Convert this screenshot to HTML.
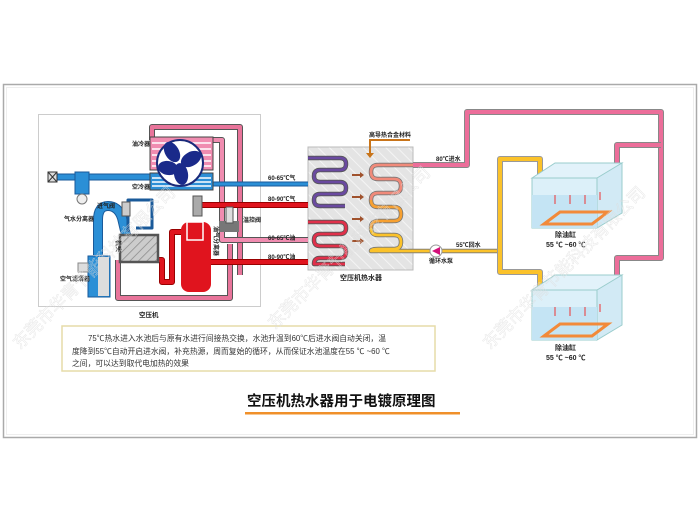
<!DOCTYPE html>
<html><head><meta charset="utf-8"><style>
html,body{margin:0;padding:0;background:#fff;}
svg{display:block;font-family:"Liberation Sans","Noto Sans CJK SC",sans-serif;}
</style></head><body>
<svg width="700" height="525" viewBox="0 0 700 525" xmlns="http://www.w3.org/2000/svg">
<defs>
<pattern id="hatch" width="8" height="8" patternUnits="userSpaceOnUse" patternTransform="rotate(-45)">
<rect width="8" height="8" fill="#e4e4e4"/><line x1="0" y1="0" x2="0" y2="8" stroke="#f4f4f4" stroke-width="2"/></pattern>
<pattern id="hatch2" width="6" height="6" patternUnits="userSpaceOnUse" patternTransform="rotate(45)">
<rect width="6" height="6" fill="#ccc"/><line x1="0" y1="0" x2="0" y2="6" stroke="#888" stroke-width="1.5"/></pattern>
</defs>
<rect x="0" y="0" width="700" height="525" fill="#fff"/>
<rect x="3.5" y="84.5" width="693" height="353" fill="#fff" stroke="#aaa" stroke-width="1.5"/>
<rect x="6.5" y="87.5" width="687" height="347" fill="none" stroke="#ddd" stroke-dasharray="1 1"/>
<rect x="38.5" y="114.5" width="222" height="192" fill="#fff" stroke="#ccc"/>
<rect x="308" y="147" width="105" height="123" fill="url(#hatch)" stroke="#bbb"/>
<g fill="none" stroke-linejoin="round">
<path d="M240 275 V127 H152 V140" stroke="#555" stroke-width="6"/>
<path d="M240 275 V127 H152 V140" stroke="#e8749a" stroke-width="4"/>
<path d="M213 140 H222 V240 H308" stroke="#555" stroke-width="6"/>
<path d="M213 140 H222 V240 H308" stroke="#f08cb0" stroke-width="4"/>
<path d="M118 260 V298 H230 V244" stroke="#555" stroke-width="6"/>
<path d="M118 260 V298 H230 V244" stroke="#e8749a" stroke-width="4"/>
<path d="M55 177 H150" stroke="#1a5a9a" stroke-width="7"/>
<path d="M55 177 H150" stroke="#2b8fd6" stroke-width="5"/>
<path d="M213 184 H308" stroke="#1a5a9a" stroke-width="5"/>
<path d="M213 184 H308" stroke="#2b8fd6" stroke-width="3"/>
<path d="M98 255 V220 Q98 206 108 206 Q118 206 122 218 L126 235" stroke="#1a5a9a" stroke-width="10"/>
<path d="M98 255 V220 Q98 206 108 206 Q118 206 122 218 L126 235" stroke="#2b8fd6" stroke-width="8"/>
<path d="M128 232 V200 H152 V228 H136" stroke="#1a5a9a" stroke-width="3"/>
<path d="M198 215 V205 H308" stroke="#900" stroke-width="6"/>
<path d="M198 215 V205 H308" stroke="#e0141e" stroke-width="4"/>
<path d="M210 262 H308" stroke="#900" stroke-width="6"/>
<path d="M210 262 H308" stroke="#e0141e" stroke-width="4"/>
<path d="M155 260 H162 V282 H172 V232 H182" stroke="#900" stroke-width="6"/>
<path d="M155 260 H162 V282 H172 V232 H182" stroke="#e0141e" stroke-width="4"/>
<path d="M308 158 H340 Q346 158 346 164 Q346 170 340 170 H320 Q314 170 314 176 Q314 182 320 182 H340 Q346 182 346 188 Q346 194 340 194 H320 Q314 194 314 200 Q314 206 320 206 H345" stroke="#555" stroke-width="4.5"/>
<path d="M308 158 H340 Q346 158 346 164 Q346 170 340 170 H320 Q314 170 314 176 Q314 182 320 182 H340 Q346 182 346 188 Q346 194 340 194 H320 Q314 194 314 200 Q314 206 320 206 H345" stroke="#6a4aa0" stroke-width="2.8"/>
<path d="M308 222 H340 Q346 222 346 228 Q346 234 340 234 H320 Q314 234 314 240 Q314 246 320 246 H340 Q346 246 346 252 Q346 258 340 258 H320 Q314 258 314 264 H345" stroke="#555" stroke-width="4.5"/>
<path d="M308 222 H340 Q346 222 346 228 Q346 234 340 234 H320 Q314 234 314 240 Q314 246 320 246 H340 Q346 246 346 252 Q346 258 340 258 H320 Q314 258 314 264 H345" stroke="#e0304a" stroke-width="2.8"/>
<path d="M467 165 H378 Q371 165 371 172 Q371 179 378 179 H394 Q401 179 401 186 Q401 193 394 193 H378 Q371 193 371 200 Q371 207 378 207 H394 Q401 207 401 214 Q401 221 394 221 H378 Q371 221 371 228 Q371 235 378 235 H394 Q401 235 401 242 Q401 249 394 249 H378 Q371 249 371 251 H500" stroke="#777" stroke-width="4.5"/>
<path d="M413 165 H378 Q371 165 371 172 Q371 179 378 179 H394 Q401 179 401 186 Q401 193 394 193 H378 Q371 193 371 200" stroke="#f08a7a" stroke-width="2.8"/>
<path d="M371 200 Q371 207 378 207 H394 Q401 207 401 214 Q401 221 394 221 H378 Q371 221 371 228" stroke="#f7a030" stroke-width="2.8"/>
<path d="M371 228 Q371 235 378 235 H394 Q401 235 401 242 Q401 249 394 249 H378 Q371 249 371 251 H500" stroke="#fbc22a" stroke-width="2.8"/>
<path d="M413 165 H467 V112 H661 V258 H617 V300" stroke="#888" stroke-width="6"/>
<path d="M413 165 H467 V112 H661 V258 H617 V300" stroke="#ec6e9a" stroke-width="4"/>
<path d="M661 145 H617 V190" stroke="#888" stroke-width="6"/>
<path d="M661 145 H617 V190" stroke="#ec6e9a" stroke-width="4"/>
<path d="M500 251 V159 H540 V222" stroke="#999" stroke-width="6"/>
<path d="M500 251 V159 H540 V222" stroke="#fbc22a" stroke-width="4"/>
<path d="M500 251 V272 H540 V334" stroke="#999" stroke-width="6"/>
<path d="M500 251 V272 H540 V334" stroke="#fbc22a" stroke-width="4"/>
</g>
<rect x="150" y="137" width="63" height="33" stroke="#444" fill="#f08cb0"/>
<g stroke="#fff" stroke-width="1.5">
<line x1="152" y1="143" x2="211" y2="143"/><line x1="152" y1="149" x2="211" y2="149"/><line x1="152" y1="155" x2="211" y2="155"/><line x1="152" y1="161" x2="211" y2="161"/><line x1="152" y1="166" x2="211" y2="166"/>
</g>
<rect x="150" y="173" width="63" height="17" fill="#2b8fd6" stroke="#444"/>
<g stroke="#fff" stroke-width="1.5"><line x1="152" y1="178" x2="211" y2="178"/><line x1="152" y1="182" x2="211" y2="182"/><line x1="152" y1="186" x2="211" y2="186"/></g>
<circle cx="180" cy="163" r="23" fill="#fff" stroke="#1a2a7a" stroke-width="2"/>
<g fill="#1a2a8a"><ellipse cx="172" cy="152" rx="7" ry="11" transform="rotate(-30 172 152)"/><ellipse cx="191" cy="159" rx="7" ry="11" transform="rotate(60 191 159)"/><ellipse cx="181" cy="174" rx="7" ry="11" transform="rotate(-10 181 174)"/><ellipse cx="168" cy="168" rx="7" ry="10" transform="rotate(100 168 168)"/></g>
<rect x="48" y="172" width="9" height="10" fill="#ddd" stroke="#333"/>
<path d="M48 172 L57 182 M57 172 L48 182" stroke="#333"/>
<rect x="75" y="172" width="14" height="22" fill="#2b8fd6" stroke="#1a5a9a"/>
<circle cx="82" cy="199" r="5" fill="#eee" stroke="#777"/>
<rect x="88" y="256" width="22" height="41" fill="#2b8fd6" stroke="#1a5a9a"/>
<rect x="98" y="257" width="11" height="39" fill="#ddd"/>
<rect x="78" y="263" width="10" height="9" fill="#ddd" stroke="#888"/>
<rect x="122" y="202" width="8" height="14" fill="#ccc" stroke="#555"/>
<rect x="120" y="235" width="38" height="27" fill="url(#hatch2)" stroke="#555" stroke-width="2.5"/>
<rect x="181" y="222" width="30" height="70" rx="8" fill="#e0141e"/>
<rect x="187" y="222" width="16" height="18" fill="none" stroke="#fff" stroke-width="1.5"/>
<rect x="193" y="196" width="9" height="20" fill="#aaa" stroke="#555"/>
<rect x="219" y="221" width="20" height="11" fill="#777"/>
<rect x="226" y="207" width="7" height="16" fill="#ddd" stroke="#555"/>
<g fill="#a0522d"><path d="M352 174h8v-2l4 3-4 3v-2h-8z"/><path d="M352 196h8v-2l4 3-4 3v-2h-8z"/><path d="M352 218h8v-2l4 3-4 3v-2h-8z"/><path d="M352 240h8v-2l4 3-4 3v-2h-8z"/></g>
<path d="M410 140 H370 V155" fill="none" stroke="#c8741a" stroke-width="2"/><path d="M366 153 L374 153 L370 158z" fill="#c8741a"/>
<circle cx="436" cy="251" r="6" fill="#fff" stroke="#999"/><path d="M432 251 L440 247 V255z" fill="#d4107a"/>
<g>
<path d="M532 178 L555 163 H622 L599 178z" fill="#e2f2fa" stroke="#9cc"/>
<path d="M597 178 L622 163 V213 L597 228z" fill="#d2eaf5" stroke="#9cc"/>
<rect x="532" y="178" width="65" height="50" fill="#dcf0f9" stroke="#9cc"/>
<rect x="532" y="195" width="65" height="33" fill="#c4e4f4"/>
<path d="M544 224 L560 212 H608 L592 224z" fill="none" stroke="#f28a3a" stroke-width="3"/>
<g stroke="#e33" stroke-width="1"><line x1="555" y1="204" x2="555" y2="195"/><line x1="570" y1="204" x2="570" y2="195"/><line x1="585" y1="204" x2="585" y2="195"/><line x1="600" y1="200" x2="600" y2="192"/></g>
</g>
<g>
<path d="M532 290 L555 275 H622 L599 290z" fill="#e2f2fa" stroke="#9cc"/>
<path d="M597 290 L622 275 V325 L597 340z" fill="#d2eaf5" stroke="#9cc"/>
<rect x="532" y="290" width="65" height="50" fill="#dcf0f9" stroke="#9cc"/>
<rect x="532" y="307" width="65" height="33" fill="#c4e4f4"/>
<path d="M544 336 L560 324 H608 L592 336z" fill="none" stroke="#f28a3a" stroke-width="3"/>
<g stroke="#e33" stroke-width="1"><line x1="555" y1="316" x2="555" y2="307"/><line x1="570" y1="316" x2="570" y2="307"/><line x1="585" y1="316" x2="585" y2="307"/><line x1="600" y1="312" x2="600" y2="304"/></g>
</g>
<g font-size="6" fill="#222" font-weight="bold">
<text x="132" y="146">油冷器</text>
<text x="132" y="189">空冷器</text>
<text x="97" y="208">进气阀</text>
<text x="64" y="221">气水分离器</text>
<text x="60" y="281">空气滤清器</text>
<text x="243" y="222">温控阀</text>
<text x="268" y="180">60-65℃气</text>
<text x="268" y="201">80-90℃气</text>
<text x="268" y="240">60-65℃油</text>
<text x="268" y="259">80-90℃油</text>
<text x="369" y="137">高导热合金材料</text>
<text x="436" y="161">80℃进水</text>
<text x="456" y="247">55℃回水</text>
<text x="429" y="263">循环水泵</text>
<text x="340" y="280" font-size="7">空压机热水器</text>
<text x="139" y="317" font-size="6.5">空压机</text>
<text x="555" y="237" font-size="7">除油缸</text>
<text x="546" y="247" font-size="7">55 ℃ ~60 ℃</text>
<text x="555" y="350" font-size="7">除油缸</text>
<text x="546" y="360" font-size="7">55 ℃ ~60 ℃</text>
</g>
<text font-size="6" font-weight="bold" fill="#222" transform="translate(116 240) rotate(90)">机头</text>
<text font-size="6" font-weight="bold" fill="#222" transform="translate(214 226) rotate(90)">油气分离器</text>
<rect x="62" y="326" width="373" height="45" fill="#fff" stroke="#e6dca8" stroke-width="1.5"/>
<g font-size="7.8" fill="#333">
<text x="88" y="341">75℃热水进入水池后与原有水进行间接热交换，水池升温到60℃后进水阀自动关闭，温</text>
<text x="72" y="354">度降到55℃自动开启进水阀，补充热源，周而复始的循环，从而保证水池温度在55 ℃ ~60 ℃</text>
<text x="72" y="366">之间，可以达到取代电加热的效果</text>
</g>
<text x="247" y="406" font-size="14.5" font-weight="bold" fill="#111">空压机热水器用于电镀原理图</text>
<rect x="245" y="412" width="215" height="2.5" fill="#f0902a"/>
<g font-size="17" fill="none" stroke="#ddd" stroke-width="0.5" opacity="0.7">
<text transform="translate(20 350) rotate(-45)">东莞市华青节能科技有限公司</text>
<text transform="translate(275 330) rotate(-45)">东莞市华青节能科技有限公司</text>
<text transform="translate(490 350) rotate(-45)">东莞市华青节能科技有限公司</text>
</g>
</svg>
</body></html>
